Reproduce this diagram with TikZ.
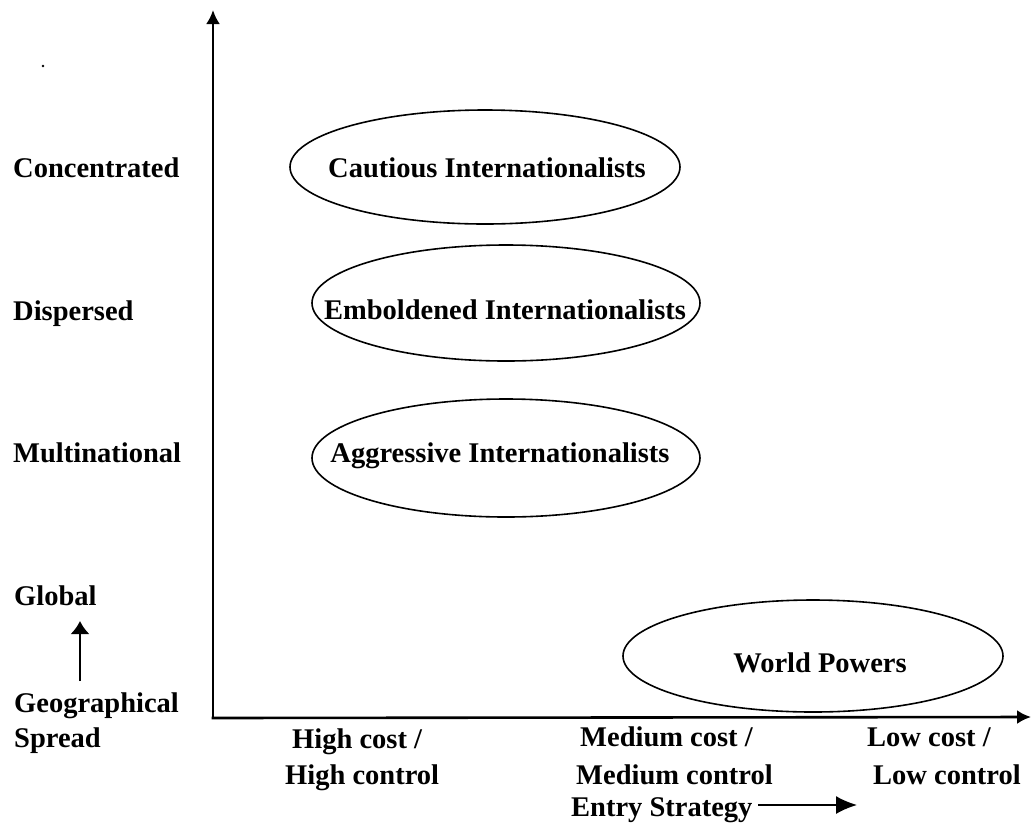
\documentclass[tikz,border=0pt]{standalone}
\usepackage{fontspec}
\setmainfont{Liberation Serif}
\usetikzlibrary{arrows.meta,shapes.geometric}
\begin{document}
\begin{tikzpicture}[x=1pt,y=-1pt,
  lbl/.style={anchor=base west,inner sep=0pt,font=\fontsize{28.5}{34}\selectfont\bfseries},
  ctext/.style={anchor=base,inner sep=0pt,font=\fontsize{28.5}{34}\selectfont\bfseries},
  oval/.style={draw,ellipse,line width=1.6pt,inner sep=0pt},
  axis/.style={line width=2.6pt,-{Latex[length=14pt,width=14pt]}},
  uparrow/.style={line width=1.8pt,-{Latex[length=13pt,width=19pt]}},
  rightarrow/.style={line width=1.6pt,-{Latex[length=21pt,width=18pt]}}]
\useasboundingbox (0,0) rectangle (1031,823);

% axes
\coordinate (origin) at (213,718);
\coordinate (ytop) at (213,10);
\coordinate (xend) at (1031,717);
\draw[axis] (origin) -- (ytop);
\draw[axis] ([xshift=-1.3pt]origin) -- (xend);

% stray dot
\fill (43,66) circle (1.3pt) coordinate (dot);

% vertical-axis labels
\node[lbl] (conc) at (13,177) {Concentrated};
\node[lbl] (disp) at (13,320) {Dispersed};
\node[lbl] (multi) at (13,462) {Multinational};
\node[lbl] (glob) at (14,605) {Global};
\node[lbl] (geo) at (14,712) {Geographical};
\node[lbl] (spread) at (14,747) {Spread};
\coordinate (gfrom) at (80,681);
\coordinate (gto) at (80,621);
\draw[uparrow] (gfrom) -- (gto);

% horizontal-axis labels
\node[lbl] (hc1) at (292,748) {High cost /};
\node[lbl] (hc2) at (285,784) {High control};
\node[lbl] (mc1) at (580,746) {Medium cost /};
\node[lbl] (mc2) at (576,784) {Medium control};
\node[lbl] (lc1) at (867,746) {Low cost /};
\node[lbl] (lc2) at (873,784) {Low control};
\node[lbl] (entry) at (571,816) {Entry Strategy};
\coordinate (efrom) at (758,805);
\coordinate (eto) at (857,805);
\draw[rightarrow] (efrom) -- (eto);

% clusters
\node[oval,minimum width=390pt,minimum height=114pt] (cautious) at (485,167) {};
\node[ctext] (cautioust) at (487,177) {Cautious Internationalists};
\node[oval,minimum width=388pt,minimum height=116pt] (bold) at (506,303) {};
\node[ctext] (boldt) at (505,319) {Emboldened Internationalists};
\node[oval,minimum width=388pt,minimum height=118pt] (aggr) at (506,458) {};
\node[ctext] (aggrt) at (500,462) {Aggressive Internationalists};
\node[oval,minimum width=380pt,minimum height=112pt] (world) at (813,656) {};
\node[ctext] (worldt) at (820,672) {World Powers};
\end{tikzpicture}
\end{document}
